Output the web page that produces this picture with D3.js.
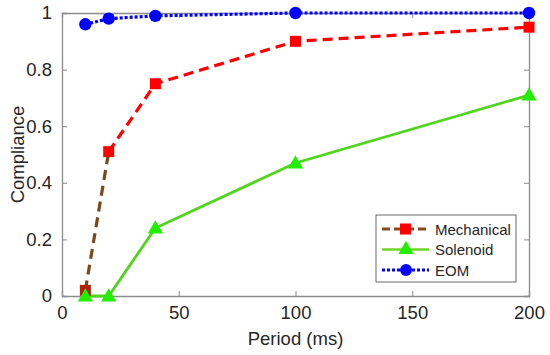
<!DOCTYPE html>
<html>
<head>
<meta charset="utf-8">
<script src="https://cdn.jsdelivr.net/npm/d3@7"></script>
<style>
  body { margin: 0; background: #fff; }
  text { font-family: "Liberation Sans", Arial, sans-serif; fill: #262626; }
</style>
</head>
<body>
<div class="wrapper"></div>
<script>
// data
var periods     = [10, 20, 40, 100, 200];
var mechanical  = [0.02, 0.51, 0.75, 0.90, 0.95];
var solenoid    = [0, 0, 0.24, 0.47, 0.71];
var eom         = [0.96, 0.98, 0.99, 1.0, 1.0];
var xTicks      = [0, 50, 100, 150, 200];
var yTicks      = [0, 0.2, 0.4, 0.6, 0.8, 1];
var seriesNames = ['Mechanical', 'Solenoid', 'EOM'];

var margin = {top: 13, right: 21, bottom: 59, left: 62},
    width  = 550 - margin.left - margin.right,
    height = 355 - margin.top  - margin.bottom;

var svg = d3.select('.wrapper').append('svg')
            .attr('width', 550)
            .attr('height', 355);

var g = svg.append('g').attr('transform', `translate(${margin.left},${margin.top})`);

var x = d3.scaleLinear().domain([0, 200]).range([0, width]);
var y = d3.scaleLinear().domain([0, 1]).range([height, 0]);

var axisColor = '#8c8c8c';

// axes (ticks point inward, box all round)
var xAxis = g.append('g').attr('transform', `translate(0,${height})`)
    .call(d3.axisBottom(x).tickValues(xTicks).tickSize(-5).tickPadding(10).tickFormat(d3.format('d')));
var yAxis = g.append('g')
    .call(d3.axisLeft(y).tickValues(yTicks).tickSize(-5).tickPadding(10).tickFormat(d => d === 0 || d === 1 ? d : d.toFixed(1)));
var xTop = g.append('g')
    .call(d3.axisTop(x).tickValues(xTicks).tickSize(-5).tickFormat(''));
var yRight = g.append('g').attr('transform', `translate(${width},0)`)
    .call(d3.axisRight(y).tickValues(yTicks).tickSize(-5).tickFormat(''));

[xAxis, yAxis, xTop, yRight].forEach(a => {
  a.selectAll('path').attr('stroke', axisColor).attr('stroke-width', 1.3);
  a.selectAll('line').attr('stroke', axisColor);
  a.selectAll('text').style('font-size', '18.5px').attr('fill', '#262626');
});

svg.append('text')
   .attr('x', margin.left + width / 2)
   .attr('y', 345)
   .attr('text-anchor', 'middle')
   .style('font-size', '18.5px')
   .text('Period (ms)');

svg.append('text')
   .attr('transform', `translate(24,${margin.top + height / 2}) rotate(-90)`)
   .attr('text-anchor', 'middle')
   .style('font-size', '18.5px')
   .text('Compliance');

var line = d3.line().x(d => x(d[0])).y(d => y(d[1]));
var pts = vals => periods.map((p, i) => [p, vals[i]]);

// solenoid
g.append('path').datum(pts(solenoid))
  .attr('d', line).attr('fill', 'none')
  .attr('stroke', '#4fd61a').attr('stroke-width', 2.8);

// mechanical
g.append('path').datum(pts(mechanical).slice(1))
  .attr('d', line).attr('fill', 'none')
  .attr('stroke', '#ff0000').attr('stroke-width', 3.2)
  .attr('stroke-dasharray', '10,6');
g.append('path').datum(pts(mechanical).slice(0, 2))
  .attr('d', line).attr('fill', 'none')
  .attr('stroke', '#7a4a1e').attr('stroke-width', 3.2)
  .attr('stroke-dasharray', '10,6');

// eom
g.append('path').datum(pts(eom))
  .attr('d', line).attr('fill', 'none')
  .attr('stroke', '#0000ff').attr('stroke-width', 3.2)
  .attr('stroke-dasharray', '3,2');

// markers
g.selectAll('.sq').data(pts(mechanical)).enter().append('rect')
  .attr('x', d => x(d[0]) - 5.5).attr('y', d => y(d[1]) - 5.5)
  .attr('width', 11).attr('height', 11)
  .attr('fill', (d, i) => i === 0 ? '#b0200a' : '#ff0000');

var tri = d3.symbol().type(d3.symbolTriangle).size(100);
g.selectAll('.tri').data(pts(solenoid)).enter().append('path')
  .attr('d', tri)
  .attr('transform', d => `translate(${x(d[0])},${y(d[1]) + 1})`)
  .attr('fill', '#22ee00');

g.selectAll('.dot').data(pts(eom)).enter().append('circle')
  .attr('cx', d => x(d[0])).attr('cy', d => y(d[1]))
  .attr('r', 6.2).attr('fill', '#0000ff');

// legend
var lg = svg.append('g').attr('transform', 'translate(376,215)');
lg.append('rect').attr('width', 140).attr('height', 67)
  .attr('fill', '#fff').attr('stroke', '#444').attr('stroke-width', 0.8);

var legendStyle = [
  {stroke: '#8b4a1a', dash: '8,4', w: 3},
  {stroke: '#6fd628', dash: null, w: 2.5},
  {stroke: '#0000ff', dash: '3,2', w: 3}
];
seriesNames.forEach((name, i) => {
  var yy = 14 + i * 20.5;
  var s = legendStyle[i];
  lg.append('line').attr('x1', 6).attr('x2', 53).attr('y1', yy).attr('y2', yy)
    .attr('stroke', s.stroke).attr('stroke-width', s.w)
    .attr('stroke-dasharray', s.dash);
  if (i === 0) {
    lg.append('rect').attr('x', 24).attr('y', yy - 5.5).attr('width', 11).attr('height', 11).attr('fill', '#ff0000');
  } else if (i === 1) {
    lg.append('path').attr('d', tri).attr('transform', `translate(30,${yy})`).attr('fill', '#22ee00');
  } else {
    lg.append('circle').attr('cx', 30).attr('cy', yy).attr('r', 6).attr('fill', '#0000ff');
  }
  lg.append('text').attr('x', 59).attr('y', yy + 5.5)
    .style('font-size', '15px').text(name);
});
</script>
</body>
</html>
